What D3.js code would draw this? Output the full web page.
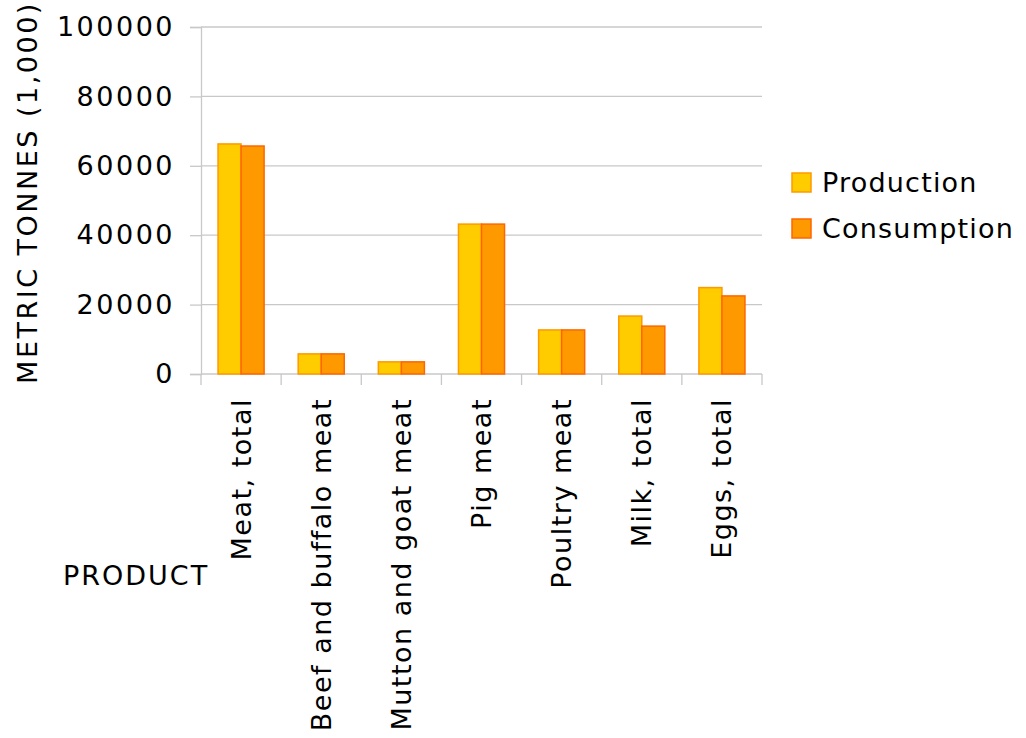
<!DOCTYPE html>
<html lang="en">
<head>
<meta charset="UTF-8">
<title>Production and Consumption</title>
<script src="https://d3js.org/d3.v7.min.js"></script>
<style>
  body { margin: 0; background: #fff; }
  svg text { font-family: "DejaVu Sans", sans-serif; fill: #000; }
</style>
</head>
<body>
<div id="chart"></div>
<script>
  // Data
  const products = ["Meat, total", "Beef and buffalo meat", "Mutton and goat meat",
                    "Pig meat", "Poultry meat", "Milk, total", "Eggs, total"];
  const production = [66300, 5800, 3500, 43200, 12700, 16700, 24900];
  const consumption = [65700, 5800, 3500, 43200, 12700, 13800, 22500];
  const seriesNames = ["Production", "Consumption"];
  const yTicks = [0, 20000, 40000, 60000, 80000, 100000];

  const fills = ["#ffcc00", "#ff9900"];
  const strokes = ["#ff9900", "#ff6600"];

  const width = 1026, height = 738;
  const plotLeft = 201, plotRight = 762, plotTop = 27, plotBottom = 374;

  const svg = d3.select("#chart").append("svg")
      .attr("width", width)
      .attr("height", height);

  const x = d3.scaleBand().domain(products).range([plotLeft, plotRight]).paddingInner(0).paddingOuter(0);
  const x1 = d3.scaleBand().domain(seriesNames).range([0, x.bandwidth()]).paddingInner(0).paddingOuter(0.74);
  const y = d3.scaleLinear().domain([0, 100000]).range([plotBottom, plotTop]);

  // grid lines
  svg.append("g")
    .selectAll("line")
    .data(yTicks.slice(1))
    .enter().append("line")
      .attr("x1", plotLeft).attr("x2", plotRight)
      .attr("y1", d => y(d)).attr("y2", d => y(d))
      .attr("stroke", "#c8c8c8").attr("stroke-width", 1.3);

  // y axis
  const yAxis = svg.append("g")
      .attr("transform", `translate(${plotLeft},0)`)
      .call(d3.axisLeft(y).tickValues(yTicks).tickSize(11).tickPadding(15).tickFormat(d3.format("d")));
  yAxis.select(".domain").attr("stroke", "#c8c8c8").attr("stroke-width", 1.3);
  yAxis.selectAll(".tick line").attr("stroke", "#c8c8c8").attr("stroke-width", 1.3);
  yAxis.selectAll(".tick text")
      .attr("font-size", 27).attr("letter-spacing", 2.5)
      .attr("font-family", "DejaVu Sans").attr("fill", "#000");

  // x axis: ticks at category boundaries
  const xg = svg.append("g");
  xg.append("line")
      .attr("x1", plotLeft).attr("x2", plotRight)
      .attr("y1", plotBottom).attr("y2", plotBottom)
      .attr("stroke", "#c8c8c8").attr("stroke-width", 1.3);
  xg.selectAll("line.tk")
    .data(products.concat(["end"]))
    .enter().append("line")
      .attr("class", "tk")
      .attr("x1", (d, i) => i < products.length ? x(d) : plotRight)
      .attr("x2", (d, i) => i < products.length ? x(d) : plotRight)
      .attr("y1", plotBottom).attr("y2", plotBottom + 11)
      .attr("stroke", "#c8c8c8").attr("stroke-width", 1.3);

  xg.selectAll("text")
    .data(products)
    .enter().append("text")
      .attr("transform", d => `translate(${x(d) + x.bandwidth() / 2},${plotBottom + 24}) rotate(-90)`)
      .attr("text-anchor", "end")
      .attr("dy", "0.35em")
      .attr("font-size", 27).attr("letter-spacing", 1.5)
      .text(d => d);

  // bars
  const groups = svg.append("g")
    .selectAll("g")
    .data(products)
    .enter().append("g")
      .attr("transform", d => `translate(${x(d)},0)`);

  groups.selectAll("rect")
    .data((d, i) => [production[i], consumption[i]].map((v, j) => ({ key: seriesNames[j], value: v, j })))
    .enter().append("rect")
      .attr("x", d => x1(d.key))
      .attr("y", d => y(d.value))
      .attr("width", x1.bandwidth())
      .attr("height", d => plotBottom - y(d.value))
      .attr("fill", d => fills[d.j])
      .attr("stroke", d => strokes[d.j])
      .attr("stroke-width", 1.5);

  // axis titles
  svg.append("text")
      .attr("transform", `translate(28,${385 / 2}) rotate(-90)`)
      .attr("text-anchor", "middle")
      .attr("dy", "0.35em")
      .attr("font-size", 27).attr("letter-spacing", 2.5)
      .text("METRIC TONNES (1,000)");

  svg.append("text")
      .attr("x", 63).attr("y", 576)
      .attr("dy", "0.35em")
      .attr("font-size", 27).attr("letter-spacing", 2)
      .text("PRODUCT");

  // legend
  const legend = svg.append("g")
    .selectAll("g")
    .data(seriesNames)
    .enter().append("g")
      .attr("transform", (d, i) => `translate(792,${173 + i * 46})`);
  legend.append("rect")
      .attr("width", 19).attr("height", 19)
      .attr("fill", (d, i) => fills[i])
      .attr("stroke", (d, i) => strokes[i])
      .attr("stroke-width", 1.5);
  legend.append("text")
      .attr("x", 30).attr("y", 10)
      .attr("dy", "0.35em")
      .attr("font-size", 27).attr("letter-spacing", 1.2)
      .text(d => d);
</script>
</body>
</html>
